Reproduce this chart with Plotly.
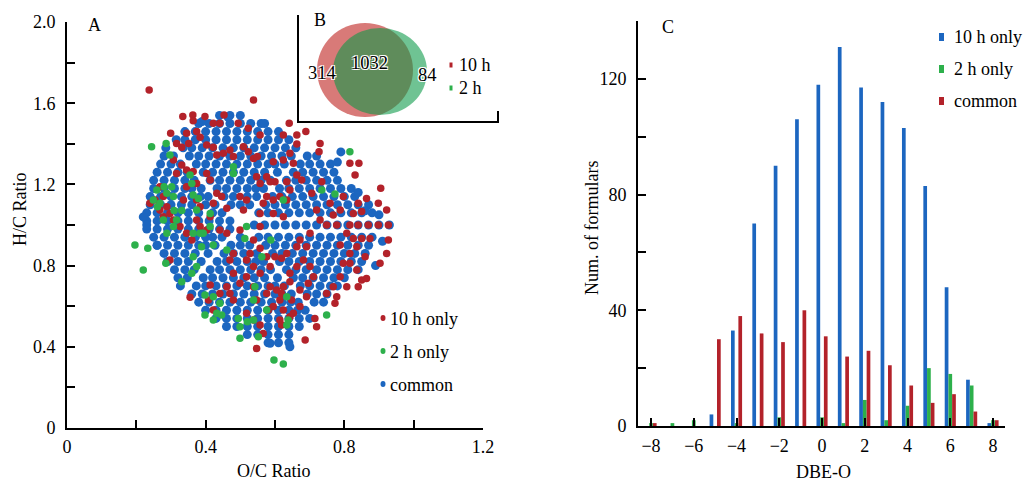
import plotly.graph_objects as go

W, H = 1024, 483
FONT = "Liberation Serif, Times New Roman, serif"
BLUE = "#1c66c0"
RED = "#b3222a"
GREEN = "#2db04b"

# ---------------- Panel A data (van Krevelen) ----------------
common_row_y = [1.54, 1.50, 1.46, 1.42, 1.38, 1.34, 1.30, 1.26, 1.22, 1.18, 1.14, 1.10, 1.06, 1.02,
                1.00, 0.98, 0.94, 0.90, 0.86, 0.82, 0.78, 0.74, 0.70, 0.66, 0.62, 0.58, 0.54, 0.50, 0.46, 0.42]
common_row_x = [
    [0.44, 0.47, 0.50],
    [0.38, 0.41, 0.44, 0.47, 0.50, 0.53, 0.56],
    [0.34, 0.37, 0.40, 0.43, 0.46, 0.49, 0.52, 0.55, 0.58, 0.61],
    [0.315, 0.34, 0.37, 0.40, 0.43, 0.46, 0.49, 0.52, 0.55, 0.58, 0.61, 0.64],
    [0.285, 0.335, 0.36, 0.39, 0.42, 0.45, 0.48, 0.51, 0.54, 0.57, 0.60, 0.63, 0.66],
    [0.28, 0.307, 0.353, 0.38, 0.41, 0.44, 0.47, 0.50, 0.53, 0.56, 0.59, 0.62, 0.647, 0.693, 0.72],
    [0.27, 0.30, 0.327, 0.373, 0.40, 0.43, 0.46, 0.49, 0.52, 0.55, 0.58, 0.60, 0.627, 0.673, 0.70, 0.73, 0.76],
    [0.26, 0.29, 0.32, 0.347, 0.393, 0.42, 0.45, 0.48, 0.51, 0.54, 0.57, 0.607, 0.653, 0.68, 0.71, 0.74, 0.77],
    [0.25, 0.28, 0.31, 0.34, 0.367, 0.413, 0.44, 0.47, 0.50, 0.53, 0.56, 0.587, 0.633, 0.66, 0.69, 0.72, 0.75, 0.78],
    [0.25, 0.28, 0.31, 0.34, 0.36, 0.387, 0.433, 0.46, 0.49, 0.52, 0.545, 0.567, 0.613, 0.64, 0.67, 0.70, 0.73, 0.76, 0.79, 0.82],
    [0.24, 0.27, 0.30, 0.33, 0.36, 0.385, 0.407, 0.453, 0.48, 0.52, 0.547, 0.593, 0.62, 0.65, 0.68, 0.71, 0.74, 0.77, 0.80, 0.83],
    [0.24, 0.27, 0.30, 0.33, 0.36, 0.40, 0.427, 0.473, 0.50, 0.527, 0.573, 0.60, 0.63, 0.66, 0.69, 0.72, 0.75, 0.78, 0.81, 0.84, 0.87],
    [0.23, 0.26, 0.29, 0.32, 0.35, 0.38, 0.42, 0.447, 0.553, 0.58, 0.61, 0.64, 0.67, 0.70, 0.73, 0.76, 0.79, 0.82, 0.85, 0.88],
    [0.23, 0.26, 0.29, 0.32, 0.35, 0.38, 0.41, 0.44, 0.47],
    [0.54, 0.57, 0.60, 0.63, 0.66, 0.69, 0.72, 0.75, 0.78, 0.81, 0.84, 0.87, 0.90, 0.93],
    [0.23, 0.26, 0.29, 0.32, 0.35, 0.38, 0.41, 0.44, 0.47],
    [0.25, 0.28, 0.31, 0.34, 0.37, 0.40, 0.42, 0.447, 0.50, 0.553, 0.58, 0.61, 0.64, 0.67, 0.70, 0.73, 0.76, 0.79, 0.82, 0.85, 0.88],
    [0.26, 0.29, 0.32, 0.35, 0.38, 0.40, 0.427, 0.473, 0.50, 0.527, 0.573, 0.60, 0.63, 0.66, 0.69, 0.72, 0.75, 0.78, 0.81, 0.84, 0.87],
    [0.28, 0.31, 0.34, 0.37, 0.407, 0.453, 0.48, 0.51, 0.547, 0.593, 0.62, 0.65, 0.68, 0.71, 0.74, 0.77, 0.80, 0.83, 0.86],
    [0.29, 0.32, 0.35, 0.387, 0.433, 0.46, 0.49, 0.52, 0.545, 0.567, 0.613, 0.64, 0.67, 0.70, 0.73, 0.76, 0.79, 0.82, 0.85],
    [0.31, 0.34, 0.367, 0.413, 0.44, 0.47, 0.50, 0.53, 0.56, 0.587, 0.633, 0.66, 0.69, 0.72, 0.75, 0.78, 0.81, 0.84],
    [0.32, 0.347, 0.393, 0.42, 0.45, 0.48, 0.51, 0.54, 0.57, 0.607, 0.653, 0.68, 0.71, 0.74, 0.77, 0.80],
    [0.327, 0.373, 0.40, 0.43, 0.46, 0.49, 0.52, 0.55, 0.58, 0.60, 0.627, 0.673, 0.70, 0.73, 0.76, 0.78],
    [0.36, 0.39, 0.42, 0.45, 0.48, 0.51, 0.54, 0.57, 0.60, 0.62, 0.647, 0.693, 0.72, 0.75],
    [0.38, 0.41, 0.44, 0.47, 0.50, 0.53, 0.56, 0.59, 0.62, 0.645, 0.667, 0.713, 0.74],
    [0.40, 0.43, 0.46, 0.49, 0.52, 0.55, 0.58, 0.61, 0.64, 0.665, 0.687],
    [0.43, 0.46, 0.49, 0.52, 0.55, 0.58, 0.61, 0.64, 0.67, 0.70],
    [0.46, 0.49, 0.52, 0.55, 0.58, 0.61, 0.64, 0.67],
    [0.52, 0.55, 0.58, 0.61, 0.64],
    [0.58, 0.61, 0.64],
]
common_extra_x = [0.79, 0.78, 0.84, 0.86, 0.89, 0.91, 0.90, 0.57, 0.465, 0.39, 0.22, 0.23, 0.26, 0.586, 0.643]
common_extra_y = [1.36, 1.31, 1.16, 1.07, 0.80, 0.92, 1.05, 1.50, 1.53, 1.51, 1.04, 1.00, 0.90, 0.417, 0.40]

only10_x = [0.237, 0.538, 0.334, 0.363, 0.364, 0.398, 0.422, 0.441, 0.453, 0.494, 0.523, 0.557, 0.641, 0.624,
            0.663, 0.689, 0.663, 0.730, 0.727, 0.299, 0.316, 0.331, 0.345, 0.351, 0.374, 0.384, 0.403, 0.422,
            0.432, 0.451, 0.470, 0.480, 0.509, 0.523, 0.538, 0.549, 0.307, 0.316, 0.331, 0.345, 0.364, 0.374,
            0.403, 0.413, 0.268, 0.278, 0.254, 0.268, 0.288, 0.297, 0.336, 0.345, 0.374, 0.384, 0.422, 0.432,
            0.446, 0.461, 0.595, 0.624, 0.643, 0.653, 0.576, 0.600, 0.634, 0.643, 0.663, 0.677, 0.706, 0.735,
            0.816, 0.842, 0.831, 0.905, 0.864, 0.898, 0.922, 0.927, 0.927, 0.922, 0.903, 0.840, 0.826, 0.850,
            0.797, 0.788, 0.759, 0.768, 0.720, 0.730, 0.749, 0.778, 0.816, 0.840, 0.869, 0.898, 0.807, 0.826,
            0.850, 0.874, 0.788, 0.816, 0.836, 0.860, 0.797, 0.816, 0.836, 0.850, 0.864, 0.788, 0.768, 0.778,
            0.807, 0.840, 0.749, 0.773, 0.711, 0.696, 0.672, 0.691, 0.672, 0.648, 0.663, 0.672, 0.691, 0.701,
            0.682, 0.701, 0.663, 0.643, 0.634, 0.619, 0.643, 0.624, 0.619, 0.605, 0.586, 0.576, 0.547, 0.538,
            0.557, 0.538, 0.518, 0.528, 0.586, 0.600, 0.614, 0.624, 0.643, 0.653, 0.518, 0.538, 0.557, 0.566,
            0.547, 0.614, 0.619, 0.595, 0.581, 0.687, 0.720, 0.715, 0.470, 0.480, 0.461, 0.441, 0.413, 0.408,
            0.422, 0.355, 0.480, 0.499, 0.518, 0.470, 0.480, 0.297, 0.239, 0.278, 0.307, 0.326, 0.345, 0.360,
            0.374, 0.384, 0.403, 0.413, 0.441, 0.461, 0.499, 0.538, 0.557, 0.576, 0.557, 0.557, 0.566, 0.576,
            0.595, 0.614, 0.634, 0.586, 0.557, 0.547, 0.499, 0.518, 0.509, 0.595, 0.624]
only10_y = [1.665, 1.616, 1.534, 1.542, 1.514, 1.534, 1.501, 1.501, 1.542, 1.501, 1.476, 1.443, 1.501, 1.443,
            1.443, 1.460, 1.399, 1.402, 1.361, 1.452, 1.402, 1.383, 1.452, 1.402, 1.460, 1.432, 1.394, 1.383,
            1.345, 1.353, 1.369, 1.337, 1.386, 1.361, 1.328, 1.337, 1.320, 1.254, 1.296, 1.271, 1.263, 1.205,
            1.254, 1.222, 1.189, 1.140, 1.123, 1.074, 1.090, 1.057, 1.123, 1.189, 1.123, 1.090, 1.107, 1.156,
            1.140, 1.082, 1.312, 1.320, 1.353, 1.304, 1.238, 1.213, 1.213, 1.172, 1.246, 1.222, 1.156, 1.213,
            1.304, 1.304, 1.246, 1.181, 1.131, 1.107, 1.074, 1.000, 0.926, 0.860, 0.811, 1.107, 1.057, 1.066,
            1.140, 1.074, 1.107, 1.049, 1.074, 1.025, 1.000, 1.000, 1.000, 1.000, 1.000, 1.000, 0.959, 0.934,
            0.934, 0.934, 0.901, 0.860, 0.893, 0.844, 0.811, 0.811, 0.778, 0.729, 0.737, 0.745, 0.696, 0.647,
            0.696, 0.696, 0.663, 0.614, 0.745, 0.713, 0.680, 0.647, 0.598, 0.631, 0.893, 0.926, 0.893, 0.959,
            0.828, 0.795, 0.795, 0.762, 0.860, 0.836, 0.721, 0.696, 0.663, 0.680, 0.696, 0.663, 0.631, 0.696,
            0.762, 0.795, 0.828, 0.860, 0.795, 0.844, 0.631, 0.581, 0.548, 0.565, 0.565, 0.532, 0.507, 0.466,
            0.392, 0.532, 0.507, 0.598, 0.581, 0.433, 0.499, 0.540, 0.663, 0.631, 0.696, 0.663, 0.704, 0.631,
            0.581, 0.644, 0.762, 0.713, 0.745, 0.828, 0.860, 0.828, 1.107, 1.041, 1.025, 0.992, 0.959, 0.926,
            1.025, 0.992, 0.975, 1.041, 0.975, 0.959, 0.975, 0.926, 0.885, 0.844, 0.992, 1.057, 1.107, 1.140,
            1.123, 1.140, 1.123, 1.213, 1.205, 1.238, 1.140, 1.123, 1.074, 1.057, 1.041]

only2_x = [0.244, 0.286, 0.297, 0.249, 0.261, 0.259, 0.280, 0.288, 0.302, 0.307, 0.268, 0.309, 0.331, 0.278,
           0.288, 0.307, 0.316, 0.196, 0.233, 0.220, 0.285, 0.331, 0.355, 0.360, 0.364, 0.379, 0.384, 0.388,
           0.364, 0.364, 0.374, 0.360, 0.393, 0.413, 0.413, 0.422, 0.398, 0.422, 0.398, 0.432, 0.446, 0.441,
           0.422, 0.494, 0.499, 0.499, 0.520, 0.538, 0.538, 0.542, 0.576, 0.597, 0.624, 0.552, 0.634, 0.638,
           0.634, 0.461, 0.480, 0.480, 0.513, 0.562, 0.588, 0.624, 0.735, 0.773, 0.816, 0.749, 0.518, 0.374]
only2_y = [1.386, 1.402, 1.345, 1.123, 1.090, 1.172, 1.189, 1.156, 1.189, 1.140, 1.107, 1.071, 1.071, 1.025,
           0.959, 0.992, 1.025, 0.901, 0.885, 0.778, 0.811, 0.721, 1.246, 1.205, 1.148, 1.131, 0.959, 0.893,
           0.959, 0.844, 0.795, 0.762, 0.959, 1.057, 0.992, 0.901, 0.655, 0.647, 0.557, 0.565, 0.557, 0.614,
           0.532, 0.540, 0.499, 0.442, 0.524, 0.532, 0.631, 0.696, 0.581, 0.335, 0.315, 0.450, 0.507, 0.532,
           0.647, 0.877, 1.287, 1.254, 0.934, 0.844, 0.926, 1.123, 1.172, 1.153, 1.361, 0.557, 0.992, 1.074]

# ---------------- Panel B data (Venn) ----------------
venn_only10 = "314"
venn_common = "1032"
venn_only2 = "84"

# ---------------- Panel C data (DBE-O histogram) ----------------
dbe_o = [-8, -7, -6, -5, -4, -3, -2, -1, 0, 1, 2, 3, 4, 5, 6, 7, 8]
bar_10h_only = [0, 0, 0, 4, 33, 70, 90, 106, 118, 131, 117, 112, 103, 83, 48, 16, 1]
bar_2h_only = [1, 1, 2, 0, 1, 0, 3, 0, 3, 1, 9, 2, 7, 20, 18, 14, 2]
bar_common = [1, 0, 0, 30, 38, 32, 29, 40, 31, 24, 26, 21, 14, 8, 11, 5, 2]

a_xticks = [0, 0.2, 0.4, 0.6, 0.8, 1.0, 1.2]
a_xtext = ["0", "", "0.4", "", "0.8", "", "1.2"]
a_yticks = [0, 0.2, 0.4, 0.6, 0.8, 1.0, 1.2, 1.4, 1.6, 1.8, 2.0]
a_ytext = ["0", "", "0.4", "", "0.8", "", "1.2", "", "1.6", "", "2.0"]
c_xticks = [-8, -6, -4, -2, 0, 2, 4, 6, 8]
c_yticks = [0, 20, 40, 60, 80, 100, 120, 140]
c_ytext = ["0", "", "40", "", "80", "", "120", ""]

# flatten the row table of common formulas
common_x, common_y = [], []
for yv, xs in zip(common_row_y, common_row_x):
    for xv in xs:
        common_x.append(xv)
        common_y.append(yv)
common_x += common_extra_x
common_y += common_extra_y


def px(v):
    return v / W


def py(v):
    return 1 - v / H


fig = go.Figure()
fig.add_trace(go.Scatter(x=common_x, y=common_y, mode="markers", name="common",
                         marker=dict(color=BLUE, size=9), showlegend=False, xaxis="x", yaxis="y"))
fig.add_trace(go.Scatter(x=only10_x, y=only10_y, mode="markers", name="10 h only",
                         marker=dict(color=RED, size=7.5), showlegend=False, xaxis="x", yaxis="y"))
fig.add_trace(go.Scatter(x=only2_x, y=only2_y, mode="markers", name="2 h only",
                         marker=dict(color=GREEN, size=7.5), showlegend=False, xaxis="x", yaxis="y"))

fig.add_trace(go.Bar(x=dbe_o, y=bar_10h_only, name="10 h only", marker=dict(color=BLUE, line_width=0),
                     showlegend=False, xaxis="x2", yaxis="y2"))
fig.add_trace(go.Bar(x=dbe_o, y=bar_2h_only, name="2 h only", marker=dict(color=GREEN, line_width=0),
                     showlegend=False, xaxis="x2", yaxis="y2"))
fig.add_trace(go.Bar(x=dbe_o, y=bar_common, name="common", marker=dict(color=RED, line_width=0),
                     showlegend=False, xaxis="x2", yaxis="y2"))

axis_common = dict(showline=True, linecolor="black", linewidth=2, ticks="inside", ticklen=8,
                   tickwidth=1.5, tickcolor="black", showgrid=False, zeroline=False,
                   tickfont=dict(family=FONT, size=18, color="black"), automargin=False, fixedrange=True)

fig.update_layout(
    width=W, height=H, margin=dict(l=0, r=0, t=0, b=0),
    paper_bgcolor="white", plot_bgcolor="white",
    barmode="group", bargap=0.48, bargroupgap=0,
    showlegend=False,
    xaxis=dict(domain=[px(67), px(483)], range=[0, 1.2], tickmode="array", tickvals=a_xticks,
               ticktext=a_xtext, anchor="y", ticklabelstandoff=1, **axis_common),
    yaxis=dict(domain=[1 - 428 / H, 1 - 22 / H], range=[0, 2.0], tickmode="array", tickvals=a_yticks,
               ticktext=a_ytext, anchor="x", ticklabelstandoff=6, **axis_common),
    xaxis2=dict(domain=[px(638), px(1005)], range=[-8.61, 8.56], tickmode="array", tickvals=c_xticks,
                anchor="y2", ticklabelstandoff=2, **axis_common),
    yaxis2=dict(domain=[1 - 426 / H, 1 - 21 / H], range=[0, 140], tickmode="array", tickvals=c_yticks,
                ticktext=c_ytext, anchor="x2", ticklabelstandoff=6, **axis_common),
)

ann = []


def text(x, y, s, size=18, xanchor="center", angle=0, shadow=None):
    f = dict(family=FONT, size=size, color="black")
    if shadow:
        f["shadow"] = shadow
    ann.append(dict(x=px(x), y=py(y), xref="paper", yref="paper", text=s, showarrow=False,
                    xanchor=xanchor, yanchor="middle", font=f, textangle=angle))


# axis titles and panel labels
text(274, 471, "O/C Ratio")
text(20, 209, "H/C Ratio", angle=-90)
text(823, 472, "DBE-O")
text(592, 228, "Num. of formulars", angle=-90)
text(94, 25, "A")
text(668, 27, "C")
text(320, 20, "B")

# panel A legend
legA = [("10 h only", RED, 318), ("2 h only", GREEN, 351), ("common", BLUE, 384)]
shapes = []
for lab, col, yy in legA:
    shapes.append(dict(type="circle", xref="paper", yref="paper", x0=px(380.5), x1=px(385.5),
                       y0=py(yy + 3), y1=py(yy - 3), fillcolor=col, line_width=0))
    text(388, yy + 1, lab, xanchor="left")

# panel C legend
legC = [("10 h only", BLUE, 37), ("2 h only", GREEN, 69), ("common", RED, 101)]
for lab, col, yy in legC:
    shapes.append(dict(type="rect", xref="paper", yref="paper", x0=px(939), x1=px(944),
                       y0=py(yy + 4), y1=py(yy - 4), fillcolor=col, line_width=0))
    text(952, yy, lab, xanchor="left")

# panel B venn
shapes.append(dict(type="circle", xref="paper", yref="paper", x0=px(317), x1=px(413),
                   y0=py(117), y1=py(23), fillcolor="rgb(216,122,120)", line_width=0))
shapes.append(dict(type="circle", xref="paper", yref="paper", x0=px(333), x1=px(427),
                   y0=py(115), y1=py(28), fillcolor="rgba(11,153,72,0.59)", line_width=0))
for (x0, y0, x1, y1) in [(298, 15, 298, 122), (297, 122, 498, 122), (498, 111, 498, 123)]:
    shapes.append(dict(type="line", xref="paper", yref="paper", x0=px(x0), y0=py(y0), x1=px(x1),
                       y1=py(y1), line=dict(color="black", width=2)))
outline = "1px 1px 0 white, -1px -1px 0 white, 1px -1px 0 white, -1px 1px 0 white"
text(322, 73, venn_only10, size=18.5, shadow=outline)
text(369, 63, venn_common, size=18.5, shadow=outline)
text(427, 75, venn_only2, size=18.5, shadow=outline)
for col, yy, lab in [(RED, 65, "10 h"), (GREEN, 88, "2 h")]:
    shapes.append(dict(type="rect", xref="paper", yref="paper", x0=px(449.5), x1=px(452.5),
                       y0=py(yy + 2.5), y1=py(yy - 2.5), fillcolor=col, line_width=0))
    text(457, yy, lab, size=18, xanchor="left")

fig.update_layout(annotations=ann, shapes=shapes)
fig.write_html("out.html")
